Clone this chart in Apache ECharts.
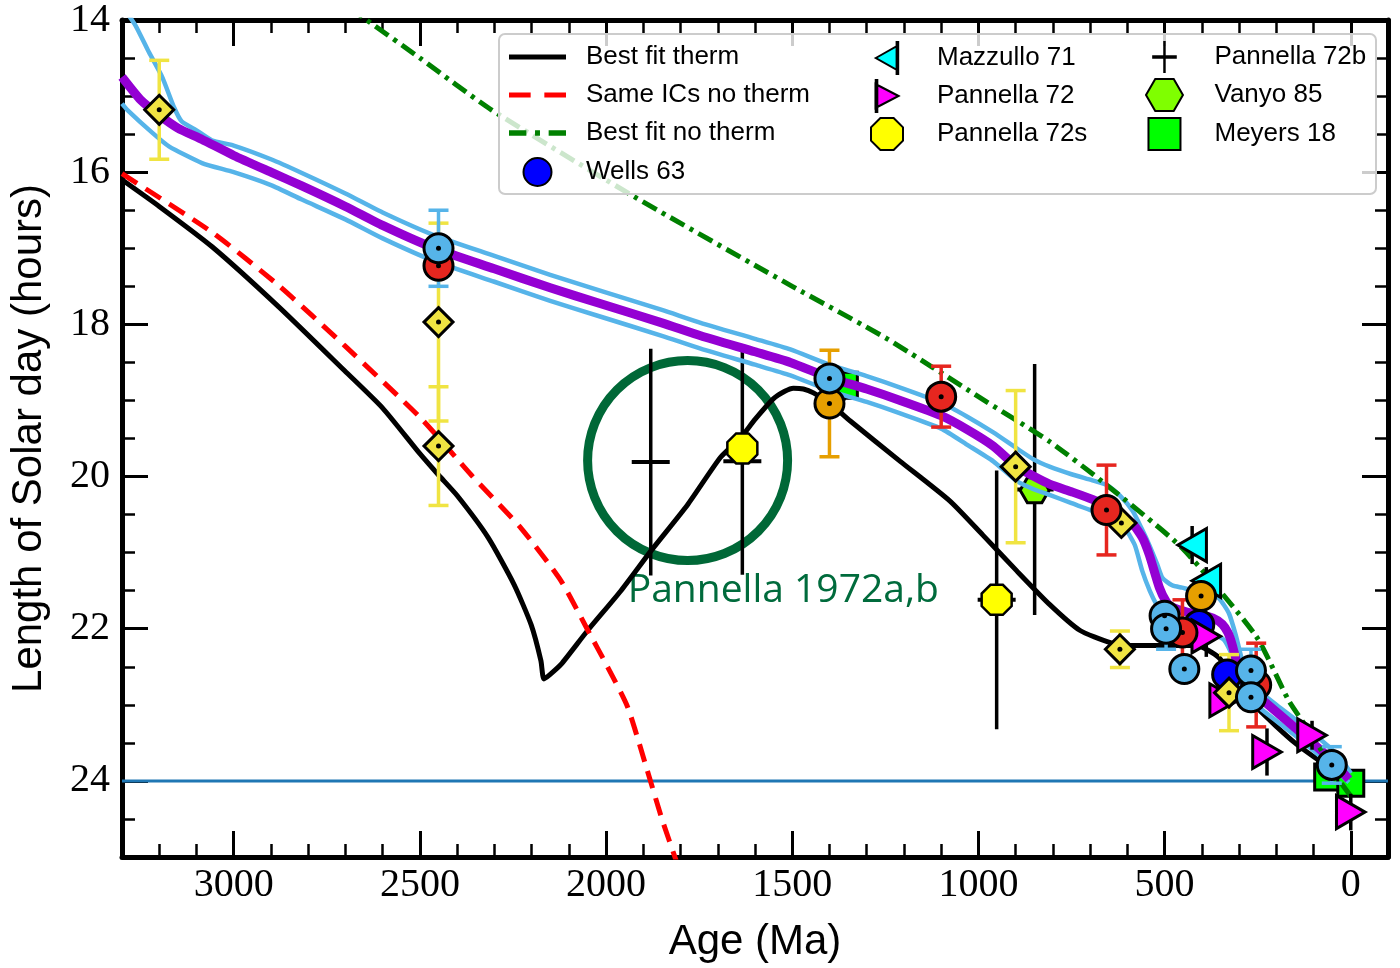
<!DOCTYPE html>
<html><head><meta charset="utf-8">
<script src="https://cdn.jsdelivr.net/npm/echarts@6/dist/echarts.min.js"></script>
<style>html,body{margin:0;padding:0;background:#fff}#c{width:1400px;height:968px}</style>
</head><body><div id="c"></div>
<script>
// ---------- axes ----------
const xMin = -100, xMax = 3300, yMin = 14, yMax = 25;
const xTicks = [0, 500, 1000, 1500, 2000, 2500, 3000];
const yTicks = [14, 16, 18, 20, 22, 24];
const presentDay = 24;

// ---------- model curves [age Ma, LOD hours] ----------
const bestFitTherm = [[3300,16.1],[3200,16.45],[3058,16.98],[2879,17.77],[2702,18.61],[2600,19.1],[2500,19.7],[2450,19.98],[2400,20.25],[2317,20.8],[2247,21.42],[2201,21.95],[2175,22.42],[2167,22.66],[2150,22.6],[2121,22.47],[2049,22.02],[1960,21.5],[1880,20.98],[1781,20.37],[1693,19.75],[1640,19.5],[1600,19.25],[1551,18.98],[1520,18.88],[1497,18.84],[1470,18.85],[1443,18.9],[1398,19.04],[1344,19.27],[1210,19.8],[1077,20.32],[988,20.77],[897,21.24],[809,21.68],[728,22.02],[648,22.18],[594,22.22],[500,22.22],[415,22.22],[354,22.38],[300,22.75],[250,23.05],[150,23.5],[50,23.85],[0,24.0]];
const sameICsNoTherm = [[3300,16.02],[3058,16.79],[2879,17.49],[2702,18.28],[2496,19.24],[2362,19.98],[2228,20.68],[2121,21.37],[2049,22.02],[1995,22.51],[1942,23.03],[1890,23.85],[1850,24.5],[1808,25.1]];
const bestFitNoTherm = [[2760,13.6],[2643,14.0],[2500,14.5],[2308,15.18],[1925,16.32],[1500,17.5],[1245,18.19],[1000,18.95],[809,19.54],[656,20.11],[453,20.94],[254,22.1],[166,22.95],[104,23.4],[24,24.04],[0,24.2]];
const modelMid = [[3300,14.75],[3250,15.05],[3200,15.25],[3150,15.42],[3085,15.57],[3000,15.78],[2900,16.0],[2817,16.18],[2700,16.45],[2600,16.7],[2461,17.0],[2300,17.27],[2150,17.52],[2014,17.73],[1850,17.98],[1746,18.15],[1600,18.36],[1505,18.5],[1400,18.7],[1300,18.85],[1210,19.0],[1100,19.2],[1031,19.38],[960,19.6],[897,19.87],[850,20.0],[809,20.1],[750,20.2],[694,20.3],[640,20.42],[586,20.62],[560,20.8],[541,21.03],[514,21.46],[495,21.65],[479,21.72],[440,21.78],[407,21.81],[370,21.86],[345,21.94],[330,22.05],[319,22.2],[300,22.55],[280,22.75],[246,22.9],[150,23.3],[59,23.69],[5,23.98]];
const modelUpper = [[3295,13.85],[3264,14.07],[3230,14.4],[3192,14.75],[3160,15.15],[3140,15.33],[3100,15.45],[3059,15.58],[3000,15.65],[2900,15.83],[2817,16.01],[2700,16.28],[2600,16.53],[2461,16.83],[2300,17.1],[2150,17.35],[2014,17.56],[1850,17.81],[1746,17.98],[1600,18.19],[1505,18.33],[1400,18.53],[1300,18.68],[1210,18.83],[1100,19.03],[1031,19.21],[960,19.42],[897,19.63],[850,19.78],[809,19.87],[750,19.97],[694,20.05],[656,20.11],[620,20.25],[586,20.45],[560,20.7],[541,20.9],[520,21.15],[506,21.33],[480,21.43],[453,21.46],[415,21.5],[388,21.5],[354,21.6],[327,21.8],[308,22.1],[290,22.45],[273,22.7],[200,23.0],[120,23.3],[59,23.55],[20,23.75],[0,23.9]];
const modelLower = [[3300,15.1],[3286,15.18],[3219,15.48],[3174,15.66],[3085,15.88],[3000,16.0],[2900,16.17],[2817,16.36],[2700,16.62],[2600,16.87],[2461,17.17],[2300,17.44],[2150,17.69],[2014,17.9],[1850,18.15],[1746,18.32],[1600,18.53],[1505,18.67],[1400,18.87],[1300,19.02],[1210,19.17],[1100,19.37],[1031,19.58],[960,19.8],[897,20.06],[850,20.17],[809,20.24],[750,20.35],[694,20.45],[640,20.58],[603,20.71],[580,20.9],[560,21.24],[540,21.5],[522,21.68],[500,21.85],[470,21.95],[430,22.0],[380,22.05],[340,22.15],[310,22.45],[290,22.8],[260,22.98],[150,23.4],[60,23.77],[5,24.02]];

// ---------- data points [age Ma, LOD hours, error hours] ----------
const wells63 = [[407,21.95,0],[332,22.6,0]];
const mazzullo71 = [[426,20.9,0.25],[388,21.37,0.18]];
const pannella72 = [[388,22.1,0.27],[340,22.94,0],[225,23.62,0.31],[104,23.4,0.19],[0,24.41,0.24]];
const pannella72s = [[1634,19.63,0],[951,21.62,0]];
const pannella72b = [[1880,19.81,1.49],[1634,19.8,1.49],[951,21.62,1.7],[849,20.17,1.65]];
const vanyo85 = [[849,20.18,0]];
const meyers18 = [[1360,18.8,0.2],[62,23.95,0],[0,24.03,0]];
const yellowDiamonds = [[3200,15.18,0.65],[2450,17.97,1.3],[2450,19.6,0.78],[900,19.87,1.0],[616,20.61,0],[620,22.27,0.24],[327,22.84,0.5]];
const redCircles = [[2450,17.23,0],[1100,18.95,0.4],[656,20.44,0.59],[452,22.05,0.43],[254,22.74,0.55]];
const orangeCircles = [[1400,19.04,0.7],[402,21.57,0]];
const skyCircles = [[2450,17.0,0.5],[1400,18.71,0],[500,21.83,0],[496,22.0,0.27],[447,22.53,0],[268,22.55,0.28],[268,22.9,0],[51,23.79,0.24]];

// ---------- annotation ----------
const annotCircle = [[1781,19.79]];
const annotTextPos = [[1524,21.5]];
const annotText = 'Pannella 1972a,b';

// ---------- symbols ----------
const SYM = {
  triL: 'path://M0,50 L86.6,0 L86.6,100 Z',
  triR: 'path://M86.6,50 L0,0 L0,100 Z',
  oct: 'path://M29.3,0 L70.7,0 L100,29.3 L100,70.7 L70.7,100 L29.3,100 L0,70.7 L0,29.3 Z',
  hex: 'path://M25,0 L75,0 L100,43.3 L75,86.6 L25,86.6 L0,43.3 Z',
  sq: 'path://M0,0 L100,0 L100,100 L0,100 Z',
  dia: 'path://M50,0 L100,50 L50,100 L0,50 Z'
};
const ICON = {
  mazz: 'path://M0,50 L80,5 L80,95 Z M78,-10 L84,-10 L84,110 L78,110 Z',
  pan72: 'path://M86.6,50 L0,5 L0,95 Z M1,-10 L7,-10 L7,110 L1,110 Z',
  pan72b: 'path://M0,58 L100,58 L100,72 L0,72 Z M45,0 L55,0 L55,130 L45,130 Z',
  solid: 'path://M0,0 L100,0 L100,9 L0,9 Z',
  dashed: 'path://M0,0 L38,0 L38,9 L0,9 Z M62,0 L100,0 L100,9 L62,9 Z',
  dashdot: 'path://M0,0 L28,0 L28,9 L0,9 Z M42,0 L50,0 L50,9 L42,9 Z M64,0 L92,0 L92,9 L64,9 Z'
};

function line(name, data, color, width, type, z, extra) {
  return Object.assign({
    type: 'line', name, data, z, xAxisIndex: 0, yAxisIndex: 0,
    showSymbol: false, symbol: 'none', smooth: 0.2,
    lineStyle: { color, width, type, cap: 'butt', join: 'round' }, itemStyle: { color, borderWidth: 0 },
    silent: true, emphasis: { disabled: true }
  }, extra || {});
}
function pts(name, data, symbol, size, color, z, bw, keep) {
  return {
    type: 'scatter', name, z, xAxisIndex: 0, yAxisIndex: 0,
    data: data.map(p => [p[0], p[1]]),
    symbol, symbolSize: size, symbolKeepAspect: keep === undefined ? true : keep,
    itemStyle: { color, borderColor: '#000', borderWidth: bw === undefined ? 3 : bw, opacity: 1 },
    silent: true, emphasis: { disabled: true }
  };
}
function dots(name, data, z) {
  return pts(name, data, 'circle', 5, '#000', z, 0);
}
function errBars(name, data, color, capW, z, lw) {
  return {
    type: 'custom', name, z, xAxisIndex: 0, yAxisIndex: 0, silent: true,
    data: data.filter(p => p[2] > 0),
    encode: { x: 0, y: 1 },
    renderItem: function (params, api) {
      const x = api.value(0), y = api.value(1), e = api.value(2);
      const a = api.coord([x, y - e]), b = api.coord([x, y + e]);
      const st = { stroke: color, lineWidth: lw || 3 };
      const ch = [{ type: 'line', shape: { x1: a[0], y1: a[1], x2: b[0], y2: b[1] }, style: st }];
      if (capW) {
        ch.push({ type: 'line', shape: { x1: a[0] - capW / 2, y1: a[1], x2: a[0] + capW / 2, y2: a[1] }, style: st });
        ch.push({ type: 'line', shape: { x1: b[0] - capW / 2, y1: b[1], x2: b[0] + capW / 2, y2: b[1] }, style: st });
      }
      return { type: 'group', children: ch };
    }
  };
}

const serifFont = 'Liberation Serif';
const sansFont = 'Liberation Sans';
const xBase = { type: 'value', min: xMin, max: xMax, inverse: true, splitLine: { show: false } };
const yBase = { type: 'value', min: yMin, max: yMax, inverse: true, splitLine: { show: false } };
const frameLine = { show: true, onZero: false, lineStyle: { color: '#000', width: 5 } };
const minorTick = { show: true, inside: true, length: 13, lineStyle: { color: '#000', width: 2.5 } };

const C = {
  sky: '#56b4e9', red: '#e6261f', orange: '#e69f00', yel: '#f0e442', purple: '#9400d3',
  green: '#008000', annot: '#006837'
};

const series = [
  line('Present day', [[xMin, presentDay], [xMax, presentDay]], '#1f77b4', 3, 'solid', 1, { smooth: false }),
  {
    type: 'scatter', name: 'annotCircle', z: 1, data: annotCircle, symbol: 'circle', symbolSize: 200,
    itemStyle: { color: 'rgba(0,0,0,0)', borderColor: C.annot, borderWidth: 9, opacity: 1 }, silent: true, emphasis: { disabled: true }
  },
  {
    type: 'scatter', name: 'annotText', z: 1, data: annotTextPos, symbol: 'circle', symbolSize: 1,
    itemStyle: { color: 'rgba(0,0,0,0)', opacity: 1 }, silent: true, emphasis: { disabled: true },
    label: { show: true, position: 'inside', formatter: annotText, color: '#006b3c', fontFamily: 'Open Sans', fontSize: 39, opacity: 1 }
  },
  line('Best fit therm', bestFitTherm, '#000', 5, 'solid', 3),
  line('Same ICs no therm', sameICsNoTherm, '#ff0000', 5, [18, 10], 3),
  pts('Meyers 18', meyers18, SYM.sq, 26, '#00ff00', 4),
  errBars('meyersErr', meyers18, '#000', 0, 4),
  errBars('p72bErr', pannella72b, '#000', 0, 4, 3.5),
  pts('Pannella 72b', pannella72b, 'rect', [38, 4], '#000', 4, 0, false),
  pts('Vanyo 85', vanyo85, SYM.hex, 29, '#7fff00', 4),
  line('model upper', modelUpper, C.sky, 4.5, 'solid', 5),
  line('model lower', modelLower, C.sky, 4.5, 'solid', 5),
  line('model', modelMid, C.purple, 9, 'solid', 6),
  line('Best fit no therm', bestFitNoTherm, C.green, 5, [16, 6, 4, 6], 7),
  errBars('yelErr', yellowDiamonds, C.yel, 20, 8, 3.5),
  errBars('redErr', redCircles, C.red, 20, 8, 3.5),
  errBars('orangeErr', orangeCircles, C.orange, 20, 8, 3.5),
  errBars('skyErr', skyCircles, C.sky, 20, 8, 3.5),
  errBars('mazzErr', mazzullo71, '#000', 0, 8, 3.5),
  errBars('p72Err', pannella72, '#000', 0, 8, 3.5),
  pts('Wells 63', wells63, 'circle', 29, '#0000ff', 9),
  pts('Pannella 72', pannella72, SYM.triR, 33, '#ff00ff', 10),
  pts('Mazzullo 71', mazzullo71, SYM.triL, 33, '#00ffff', 11),
  pts('Pannella 72s', pannella72s, SYM.oct, 30, '#ffff00', 12, 2.5),
  pts('diamonds', yellowDiamonds, SYM.dia, 29, C.yel, 13),
  dots('diamondDots', yellowDiamonds, 14),
  pts('red', redCircles, 'circle', 29, C.red, 15),
  dots('redDots', redCircles, 16),
  pts('orange', orangeCircles, 'circle', 29, C.orange, 17),
  dots('orangeDots', orangeCircles, 18),
  pts('sky', skyCircles, 'circle', 29, C.sky, 19),
  dots('skyDots', skyCircles, 20)
];

const legText = { fontFamily: sansFont, fontSize: 26, color: '#000', lineHeight: 28 };
const option = {
  animation: false,
  backgroundColor: '#fff',
  grid: { left: 120, right: 12, top: 20, bottom: 108, containLabel: false },
  xAxis: [
    Object.assign({}, xBase, { position: 'bottom', interval: 100, axisLine: frameLine, axisTick: minorTick, axisLabel: { show: false } }),
    Object.assign({}, xBase, {
      position: 'bottom', axisLine: { show: false, onZero: false },
      axisTick: { show: true, inside: true, length: 26, customValues: xTicks, lineStyle: { color: '#000', width: 3 } },
      axisLabel: { show: true, customValues: xTicks, formatter: v => String(v), fontFamily: serifFont, fontSize: 40, color: '#000', margin: 8 },
      name: 'Age (Ma)', nameLocation: 'middle', nameGap: 64,
      nameTextStyle: { fontFamily: sansFont, fontSize: 42, color: '#000' }
    }),
    Object.assign({}, xBase, { position: 'top', interval: 100, axisLine: frameLine, axisTick: minorTick, axisLabel: { show: false } }),
    Object.assign({}, xBase, {
      position: 'top', axisLine: { show: false, onZero: false },
      axisTick: { show: true, inside: true, length: 26, customValues: xTicks, lineStyle: { color: '#000', width: 3 } },
      axisLabel: { show: false }
    })
  ],
  yAxis: [
    Object.assign({}, yBase, { position: 'left', interval: 0.5, axisLine: frameLine, axisTick: minorTick, axisLabel: { show: false } }),
    Object.assign({}, yBase, {
      position: 'left', axisLine: { show: false, onZero: false },
      axisTick: { show: true, inside: true, length: 26, customValues: yTicks, lineStyle: { color: '#000', width: 3 } },
      axisLabel: { show: true, customValues: yTicks, formatter: v => String(v), fontFamily: serifFont, fontSize: 40, color: '#000', margin: 12 },
      name: 'Length of Solar day (hours)', nameLocation: 'middle', nameGap: 72,
      nameTextStyle: { fontFamily: sansFont, fontSize: 42, color: '#000' }
    }),
    Object.assign({}, yBase, { position: 'right', interval: 0.5, axisLine: frameLine, axisTick: minorTick, axisLabel: { show: false } }),
    Object.assign({}, yBase, {
      position: 'right', axisLine: { show: false, onZero: false },
      axisTick: { show: true, inside: true, length: 26, customValues: yTicks, lineStyle: { color: '#000', width: 3 } },
      axisLabel: { show: false }
    })
  ],
  graphic: [{
    type: 'rect', left: 498, top: 33, z: 50, silent: true,
    shape: { width: 877, height: 160, r: 6 },
    style: { fill: 'rgba(255,255,255,0.8)', stroke: '#cccccc', lineWidth: 2 }
  }],
  legend: [
    {
      z: 60, orient: 'vertical', left: 509, top: 43, padding: 0, itemWidth: 57, itemHeight: 28, itemGap: 10,
      selectedMode: false, textStyle: Object.assign({ padding: [0, 0, 0, 15] }, legText),
      data: [{ name: 'Best fit therm', icon: ICON.solid }, { name: 'Same ICs no therm', icon: ICON.dashed },
             { name: 'Best fit no therm', icon: ICON.dashdot }, 'Wells 63']
    },
    {
      z: 60, orient: 'vertical', left: 870, top: 41, padding: 0, itemWidth: 72, itemHeight: 32, itemGap: 4,
      selectedMode: false, textStyle: Object.assign({ padding: [0, 0, 0, 9] }, legText),
      data: [{ name: 'Mazzullo 71', icon: ICON.mazz }, { name: 'Pannella 72', icon: ICON.pan72 }, { name: 'Pannella 72s', icon: SYM.oct }]
    },
    {
      z: 60, orient: 'vertical', left: 1145, top: 41, padding: 0, itemWidth: 72, itemHeight: 32, itemGap: 5,
      selectedMode: false, textStyle: Object.assign({ padding: [0, 0, 0, 9] }, legText),
      data: [{ name: 'Pannella 72b', icon: ICON.pan72b }, { name: 'Vanyo 85', icon: SYM.hex }, { name: 'Meyers 18', icon: SYM.sq }]
    }
  ],
  series
};
const chart = echarts.init(document.getElementById('c'), null, { renderer: 'canvas' });
chart.setOption(option);
</script>
</body></html>
